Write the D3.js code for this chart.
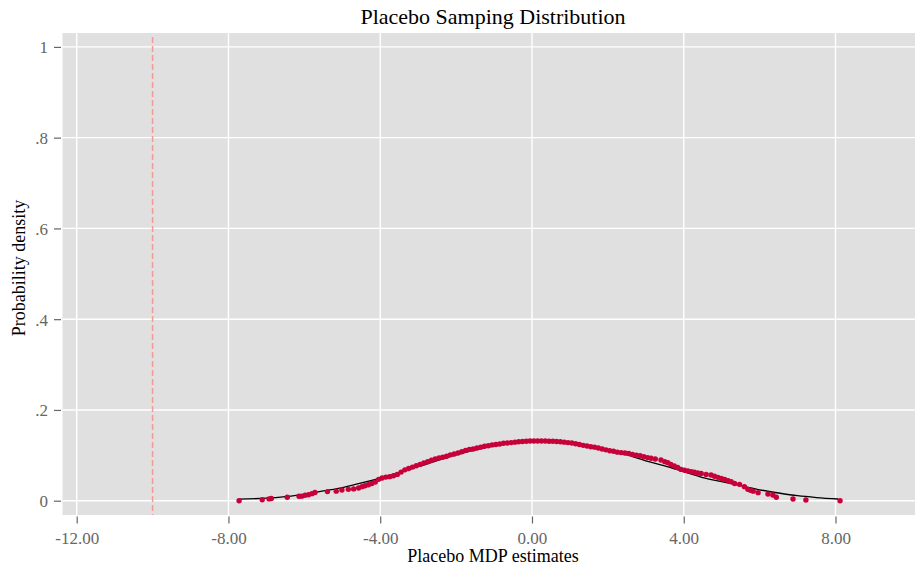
<!DOCTYPE html>
<html>
<head>
<meta charset="utf-8">
<script src="https://d3js.org/d3.v7.min.js"></script>
<style>
    body { margin: 0; background: #fff; }
    text { font-family: "Liberation Serif", "Times New Roman", serif; }
</style>
</head>
<body>
<div id="chart"></div>
<script>
// tick values / labels
var xTicks = [-12, -8, -4, 0, 4, 8];
var xTickLabels = ["-12.00", "-8.00", "-4.00", "0.00", "4.00", "8.00"];
var yTicks = [0, 0.2, 0.4, 0.6, 0.8, 1];
var yTickLabels = ["0", ".2", ".4", ".6", ".8", "1"];
var placeboLine = -10;

// placebo estimates (x) and their density (y)
var dotX = [-7.72, -7.11, -6.93, -6.87, -6.45, -6.14, -6.07, -5.98, -5.89, -5.80, -5.72, -5.39, -5.16, -5.01, -4.84, -4.70, -4.57, -4.48, -4.40, -4.31, -4.22, -4.13, -4.04,
    -3.95, -3.85, -3.75, -3.65, -3.55, -3.45, -3.35, -3.25, -3.15, -3.05, -2.95, -2.85, -2.75, -2.65, -2.55, -2.45, -2.35, -2.25, -2.15, -2.05,
    -1.95, -1.85, -1.75, -1.65, -1.55, -1.45, -1.35, -1.25, -1.15, -1.05, -0.95, -0.85, -0.75, -0.65, -0.55, -0.45, -0.35, -0.25, -0.15, -0.05,
    0.05, 0.15, 0.25, 0.35, 0.45, 0.55, 0.65, 0.75, 0.85, 0.95, 1.05, 1.15, 1.25, 1.35, 1.45, 1.55, 1.65, 1.75, 1.85, 1.95,
    2.05, 2.15, 2.25, 2.35, 2.45, 2.55, 2.65, 2.75, 2.85, 2.95, 3.05, 3.14, 3.25, 3.40, 3.50, 3.58, 3.66, 3.75, 3.84, 3.93,
    4.02, 4.11, 4.20, 4.28, 4.37, 4.46, 4.59, 4.72, 4.81, 4.90, 4.99, 5.08, 5.17, 5.25, 5.34, 5.47, 5.60, 5.69, 5.76, 5.83, 5.96,
    6.22, 6.35, 6.44, 6.88, 7.22, 8.12];
var dotY = [0.000, 0.002, 0.004, 0.005, 0.0075, 0.0097, 0.010, 0.012, 0.013, 0.0155, 0.018, 0.020, 0.021, 0.0235, 0.025, 0.026, 0.028, 0.031, 0.033, 0.035, 0.038, 0.041, 0.047,
    0.050, 0.052, 0.053, 0.055, 0.058, 0.063, 0.068, 0.071, 0.074, 0.077, 0.080, 0.083, 0.086, 0.089, 0.092, 0.094, 0.096, 0.098, 0.101, 0.103,
    0.105, 0.108, 0.111, 0.113, 0.114, 0.116, 0.118, 0.120, 0.121, 0.123, 0.124, 0.125, 0.1265, 0.127, 0.128, 0.129, 0.130, 0.1305, 0.131, 0.1315,
    0.1315, 0.1315, 0.1315, 0.1315, 0.131, 0.131, 0.1305, 0.130, 0.129, 0.128, 0.127, 0.1255, 0.124, 0.122, 0.1205, 0.119, 0.118, 0.116, 0.114, 0.112,
    0.110, 0.109, 0.107, 0.106, 0.105, 0.104, 0.102, 0.1005, 0.099, 0.097, 0.095, 0.0934, 0.092, 0.0897, 0.086, 0.0838, 0.080, 0.0765, 0.073, 0.069,
    0.067, 0.0655, 0.064, 0.0626, 0.061, 0.060, 0.058, 0.0566, 0.054, 0.0515, 0.049, 0.047, 0.044, 0.042, 0.038, 0.036, 0.031, 0.025, 0.023, 0.021, 0.0177,
    0.0148, 0.0126, 0.0075, 0.0037, 0.0015, 0.000];

// normal reference curve
var curveX = [-7.72, -7.0, -6.5, -6.0, -5.5, -5.0, -4.6, -4.0, -3.0, -2.0, -1.0, 0.0, 1.0, 2.0, 2.5, 3.0, 3.5, 4.0, 4.5, 5.0, 5.5, 6.0, 6.5, 7.0, 7.5, 8.07];
var curveY = [0.0035, 0.0055, 0.009, 0.014, 0.0215, 0.029, 0.037, 0.050, 0.075, 0.101, 0.121, 0.1315, 0.128, 0.110, 0.101, 0.088, 0.077, 0.064, 0.051, 0.042, 0.033, 0.024, 0.017, 0.011, 0.007, 0.0037];

var W = 915, H = 571;
var plot = {left: 62.5, right: 915, top: 33, bottom: 515};

var svg = d3.select("#chart")
    .append("svg")
    .attr("width", W)
    .attr("height", H);

var x = d3.scaleLinear().domain([-12, 8]).range([76.7, 835.5]);
var y = d3.scaleLinear().domain([0, 1]).range([500.7, 46.9]);

// plot background
svg.append("rect")
    .attr("x", plot.left)
    .attr("y", plot.top)
    .attr("width", plot.right - plot.left)
    .attr("height", plot.bottom - plot.top)
    .style("fill", "#e0e0e0");

// gridlines
svg.append("g")
    .selectAll("line")
    .data(xTicks)
    .enter()
    .append("line")
    .attr("x1", d => x(d)).attr("x2", d => x(d))
    .attr("y1", plot.top).attr("y2", plot.bottom)
    .style("stroke", "#fff")
    .style("stroke-width", 1.4);

svg.append("g")
    .selectAll("line")
    .data(yTicks)
    .enter()
    .append("line")
    .attr("x1", plot.left).attr("x2", plot.right)
    .attr("y1", d => y(d)).attr("y2", d => y(d))
    .style("stroke", "#fff")
    .style("stroke-width", 1.4);

// axes
var xAxis = svg.append("g")
    .attr("transform", "translate(0," + (plot.bottom + 1.5) + ")")
    .call(d3.axisBottom(x)
        .tickValues(xTicks)
        .tickSize(7)
        .tickPadding(8)
        .tickFormat((d, i) => xTickLabels[i]));

var yAxis = svg.append("g")
    .attr("transform", "translate(" + (plot.left - 1.5) + ",0)")
    .call(d3.axisLeft(y)
        .tickValues(yTicks)
        .tickSize(7)
        .tickPadding(6)
        .tickFormat((d, i) => yTickLabels[i]));

[xAxis, yAxis].forEach(function (a) {
    a.select(".domain").remove();
    a.selectAll("line").style("stroke", "#666").style("stroke-width", 1.2);
    a.selectAll("text")
        .style("fill", "#666")
        .style("font-size", "17px")
        .style("font-family", "Liberation Serif, serif");
});
yAxis.selectAll("text").attr("dy", "0.35em");

// placebo reference line
svg.append("line")
    .attr("x1", x(placeboLine)).attr("x2", x(placeboLine))
    .attr("y1", 37).attr("y2", plot.bottom)
    .style("stroke", "#f19a96")
    .style("stroke-width", 1.5)
    .style("stroke-dasharray", "6,3");

// normal curve
var curve = curveX.map((d, i) => [d, curveY[i]]);
svg.append("path")
    .datum(curve)
    .attr("d", d3.line()
        .x(d => x(d[0]))
        .y(d => y(d[1]))
        .curve(d3.curveMonotoneX))
    .style("fill", "none")
    .style("stroke", "#000")
    .style("stroke-width", 1.3);

// dots
svg.append("g")
    .selectAll("circle")
    .data(dotX)
    .enter()
    .append("circle")
    .attr("cx", d => x(d))
    .attr("cy", (d, i) => y(dotY[i]))
    .attr("r", 2.7)
    .style("fill", "#c8003a");

// title
svg.append("text")
    .attr("x", 493)
    .attr("y", 24)
    .style("text-anchor", "middle")
    .style("font-size", "22px")
    .style("fill", "#000")
    .text("Placebo Samping Distribution");

// x axis label
svg.append("text")
    .attr("x", 493)
    .attr("y", 562)
    .style("text-anchor", "middle")
    .style("font-size", "18px")
    .style("fill", "#000")
    .text("Placebo MDP estimates");

// y axis label
svg.append("text")
    .attr("transform", "translate(25,268) rotate(-90)")
    .style("text-anchor", "middle")
    .style("font-size", "18px")
    .style("fill", "#000")
    .text("Probability density");
</script>
</body>
</html>
